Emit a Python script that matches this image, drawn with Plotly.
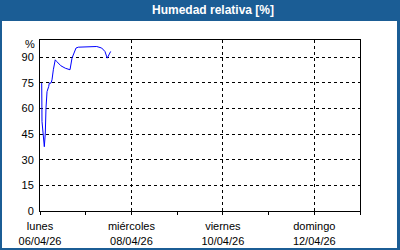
import plotly.graph_objects as go

times = ["2026-04-06 00:54", "2026-04-06 01:03", "2026-04-06 02:16", "2026-04-06 02:47",
         "2026-04-06 03:09", "2026-04-06 03:41", "2026-04-06 04:34", "2026-04-06 04:53",
         "2026-04-06 05:47", "2026-04-06 06:18", "2026-04-06 07:00", "2026-04-06 08:00",
         "2026-04-06 08:48", "2026-04-06 11:00", "2026-04-06 13:18", "2026-04-06 14:54",
         "2026-04-06 15:45", "2026-04-06 16:48", "2026-04-06 18:00", "2026-04-06 18:54",
         "2026-04-06 20:06", "2026-04-07 02:15", "2026-04-07 04:00", "2026-04-07 05:48",
         "2026-04-07 08:24", "2026-04-07 10:06", "2026-04-07 11:18", "2026-04-07 12:06",
         "2026-04-07 13:06"]
humidity = [74.8, 52.3, 37.6, 45.6, 60.3, 69.8, 72.8, 74.8, 74.8, 76.7, 82.6, 88.4,
            87.4, 84.9, 83.5, 83.1, 82.6, 89.4, 92.7, 95.3, 95.8, 95.8, 96.2, 96.2,
            95.3, 93.3, 89.4, 91.3, 93.3]

y_ticks = [0, 15, 30, 45, 60, 75, 90]
x_tickvals = ["2026-04-06", "2026-04-08", "2026-04-10", "2026-04-12"]
x_ticktext = ["lunes<br>06/04/26", "miércoles<br>08/04/26", "viernes<br>10/04/26", "domingo<br>12/04/26"]
title = "Humedad relativa [%]"

W, H = 400, 250
L, R, T, B = 40, 40, 40, 39
pw, ph = W - L - R, H - T - B

def px(x):
    return (x - L) / pw

def py(y):
    return (H - B - y) / ph

BLUE = "#1b5d95"
FONT = "Liberation Sans, Arial, sans-serif"

fig = go.Figure()
fig.add_trace(go.Scatter(x=times, y=humidity, mode="lines",
                         line=dict(color="#0000ff", width=1), showlegend=False,
                         hoverinfo="skip"))

fig.update_layout(
    width=W, height=H,
    margin=dict(l=L, r=R, t=T, b=B, pad=0, autoexpand=False),
    paper_bgcolor=BLUE, plot_bgcolor="white",
    font=dict(family=FONT, size=11, color="black"),
    shapes=[dict(type="rect", xref="paper", yref="paper",
                 x0=px(2), x1=px(397), y0=py(248), y1=py(21),
                 fillcolor="white", line=dict(width=0), layer="below")],
    annotations=[
        dict(text="<b>" + title + "</b>", xref="paper", yref="paper",
             x=px(213), y=py(10), xanchor="center", yanchor="middle",
             showarrow=False, font=dict(color="white", size=12, family=FONT)),
        dict(text="%", xref="paper", yref="paper", x=px(37), y=py(44),
             xanchor="right", yanchor="middle", showarrow=False,
             font=dict(color="black", size=11, family=FONT)),
    ],
)

fig.update_xaxes(
    type="date", range=["2026-04-06", "2026-04-13"],
    tickvals=x_tickvals, ticktext=x_ticktext, automargin=False,
    ticks="outside", ticklen=3, tickcolor="black", tickwidth=1,
    showgrid=True, gridcolor="black", gridwidth=1, griddash="3px,3px",
    showline=True, linecolor="black", linewidth=1, mirror=True,
    zeroline=False, ticklabelstandoff=2,
    minor=dict(dtick=86400000, ticks="outside", ticklen=3, tickcolor="black",
               showgrid=False, tick0="2026-04-06"),
    tickfont=dict(size=11, color="black"),
)
fig.update_yaxes(
    range=[0, 100], tickvals=y_ticks, automargin=False,
    ticks="", showgrid=True, gridcolor="black", gridwidth=1, griddash="3px,3px",
    showline=True, linecolor="black", linewidth=1, mirror=True,
    zeroline=False, ticklabelstandoff=3,
    tickfont=dict(size=11, color="black"),
)

fig.write_html("out.html")
